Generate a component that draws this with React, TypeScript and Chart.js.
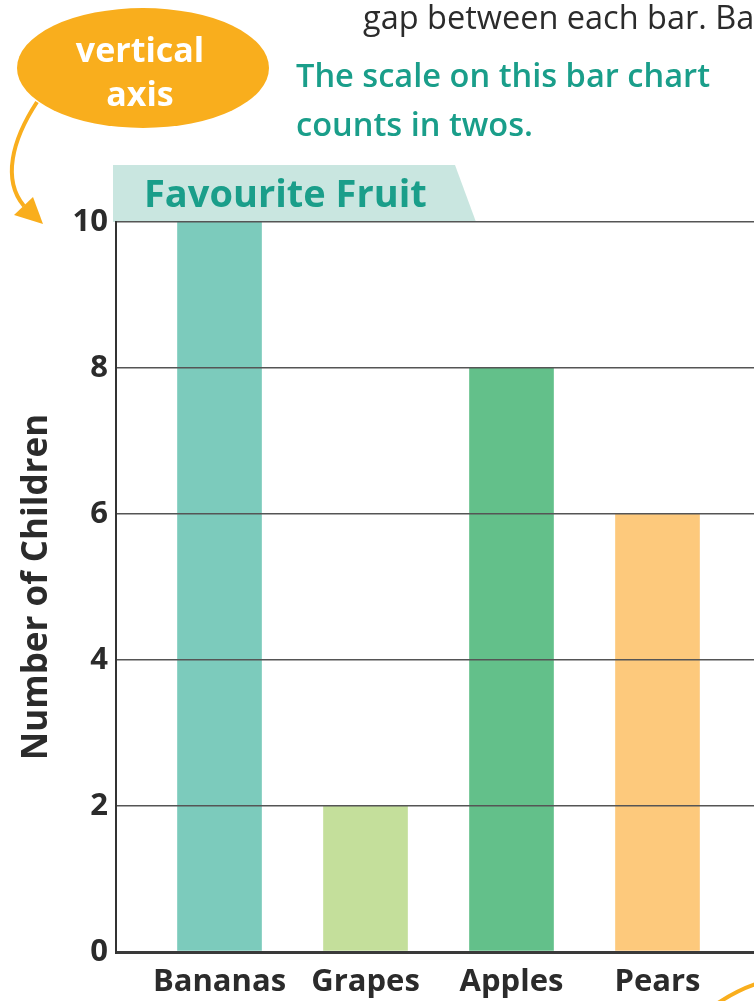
import React, { useEffect, useRef } from 'react';
import { Chart, registerables } from 'chart.js';

Chart.register(...registerables);

const categories = ['Bananas', 'Grapes', 'Apples', 'Pears'];
const childrenCounts = [10, 2, 8, 6];
const barColors = ['#7ccbbc', '#c4df9b', '#63c08a', '#fdc97c'];
const yTickValues = [0, 2, 4, 6, 8, 10];
const chartTitle = 'Favourite Fruit';
const yAxisTitle = 'Number of Children';
const calloutLines = ['vertical', 'axis'];
const noteLines = ['The scale on this bar chart', 'counts in twos.'];
const topText = 'gap between each bar. Ba';

const FONT = '"Open Sans", Lato, sans-serif';
const TEAL = '#1a9e8a';
const ORANGE = '#f9ae1d';

export default function App() {
  const ref = useRef<HTMLCanvasElement>(null);

  useEffect(() => {
    document.body.style.margin = '0';
    const chart = new Chart(ref.current as HTMLCanvasElement, {
      type: 'bar',
      data: {
        datasets: [
          {
            data: categories.map((_, i) => ({ x: i + 1, y: childrenCounts[i] })) as any,
            backgroundColor: barColors,
            borderWidth: 0,
            barThickness: 84,
          },
        ],
      },
      options: {
        animation: false,
        responsive: false,
        maintainAspectRatio: false,
        layout: { padding: { top: 222, left: 0, right: 0, bottom: 0 } },
        plugins: {
          legend: { display: false },
          tooltip: { enabled: false },
          title: { display: false },
        },
        scales: {
          x: {
            type: 'linear',
            offset: false,
            bounds: 'data',
            min: 0.291,
            max: 4.661,
            afterBuildTicks: (s: any) => {
              s.ticks = categories.map((_, i) => ({ value: i + 1 }));
            },
            afterFit: (s: any) => {
              s.height = 49;
            },
            ticks: {
              autoSkip: false,
              maxRotation: 0,
              padding: 12,
              color: '#2b2b2b',
              font: { family: FONT, size: 31, weight: 'bold' },
              callback: (v: any) => categories[Number(v) - 1] ?? '',
            },
            grid: { display: false, drawTicks: false, offset: false },
            border: { display: false },
          },
          y: {
            min: 0,
            max: 10,
            afterBuildTicks: (s: any) => {
              s.ticks = yTickValues.map((v) => ({ value: v }));
            },
            afterFit: (s: any) => {
              s.width = 116;
            },
            ticks: {
              padding: 8,
              color: '#2b2b2b',
              font: { family: FONT, size: 31, weight: 'bold' },
            },
            grid: {
              z: 1,
              color: (c: any) => (c.tick && c.tick.value === 0 ? '#3a3a3a' : '#555555'),
              lineWidth: (c: any) => (c.tick && c.tick.value === 0 ? 3 : 1.5),
              drawTicks: false,
            },
            border: { display: true, color: '#333333', width: 2, z: 1 },
            title: {
              display: true,
              text: yAxisTitle,
              color: '#2b2b2b',
              font: { family: FONT, size: 35, weight: 'bold' },
              padding: { top: 16, bottom: 0 },
            },
          },
        },
      } as any,
    });
    return () => chart.destroy();
  }, []);

  const textBase: React.CSSProperties = {
    position: 'absolute',
    whiteSpace: 'nowrap',
    fontFamily: FONT,
  };

  return (
    <div
      style={{
        position: 'absolute',
        left: 0,
        top: 0,
        width: 754,
        height: 1001,
        overflow: 'hidden',
        background: '#ffffff',
      }}
    >
      <svg
        width={754}
        height={1001}
        style={{ position: 'absolute', left: 0, top: 0 }}
      >
        <polygon points="113,165 455,165 476,222 113,222" fill="#c9e6e0" />
        <ellipse cx={143} cy={68} rx={126} ry={60} fill={ORANGE} />
        <path
          d="M 37 102 C 12 140, 2 180, 24 206"
          stroke={ORANGE}
          strokeWidth={4}
          fill="none"
        />
        <polygon points="43,224 14,215 33,197" fill={ORANGE} />
        <path
          d="M 718 1003 Q 738 990 756 984"
          stroke={ORANGE}
          strokeWidth={4}
          fill="none"
        />
      </svg>
      <canvas
        ref={ref}
        width={754}
        height={1001}
        style={{ position: 'absolute', left: 0, top: 0, width: 754, height: 1001 }}
      />
      <div
        style={{
          ...textBase,
          left: 144,
          top: 169,
          fontSize: 38,
          lineHeight: '46px',
          fontWeight: 700,
          color: TEAL,
        }}
      >
        {chartTitle}
      </div>
      {calloutLines.map((t, i) => (
        <div
          key={t}
          style={{
            ...textBase,
            left: 40,
            width: 200,
            textAlign: 'center',
            top: 27 + i * 44,
            fontSize: 34,
            lineHeight: '44px',
            fontWeight: 700,
            color: '#ffffff',
          }}
        >
          {t}
        </div>
      ))}
      {noteLines.map((t, i) => (
        <div
          key={t}
          style={{
            ...textBase,
            left: 296,
            top: 55 + i * 49,
            fontSize: 32.6,
            lineHeight: '40px',
            fontWeight: 600,
            color: TEAL,
          }}
        >
          {t}
        </div>
      ))}
      <div
        style={{
          ...textBase,
          left: 363,
          top: -3,
          fontSize: 32.5,
          lineHeight: '40px',
          fontWeight: 400,
          color: '#2b2b2b',
        }}
      >
        {topText}
      </div>
    </div>
  );
}
